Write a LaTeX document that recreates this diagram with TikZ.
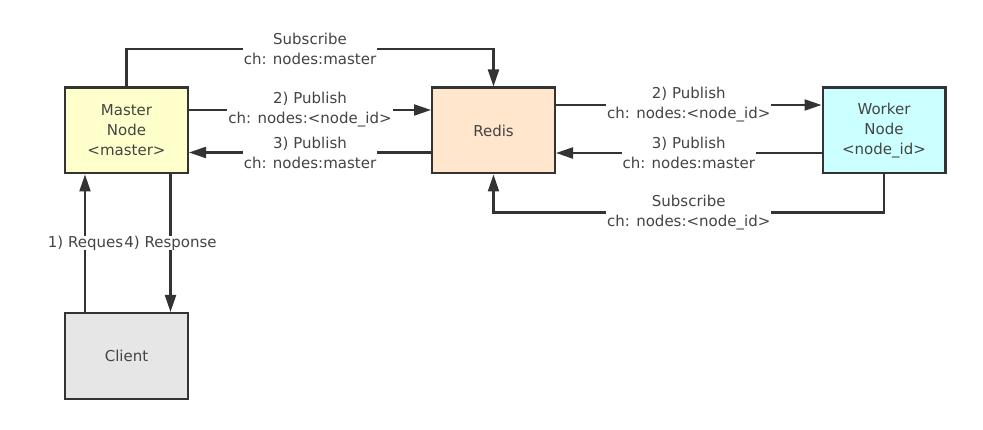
\documentclass[tikz,border=0pt]{standalone}
\usepackage{fontspec}
\setmainfont{DejaVu Sans}
\usetikzlibrary{arrows.meta}

\definecolor{linegray}{HTML}{333333}
\definecolor{textgray}{HTML}{444444}
\definecolor{masterfill}{HTML}{FFFFCC}
\definecolor{redisfill}{HTML}{FFE6CC}
\definecolor{workerfill}{HTML}{CCFFFF}
\definecolor{clientfill}{HTML}{E6E6E6}

\begin{document}
\begin{tikzpicture}[x=1pt, y=-1pt, >={Triangle[length=17pt,width=11pt]},
    box/.style={draw=linegray, line width=2.2pt, rectangle, minimum width=122.8pt, minimum height=85.8pt,
        align=center, text=textgray, font=\fontsize{15}{20}\selectfont},
    lbl/.style={fill=white, align=center, text=textgray, inner xsep=1pt, inner ysep=0pt,
        font=\fontsize{15}{20}\selectfont},
    conn/.style={draw=linegray, line width=2.2pt}]
    \useasboundingbox (0,0) rectangle (983,430);

    % Nodes
    \node (master) [box, fill=masterfill] at (126.5,130.5) {Master\\Node\\<master>};
    \node (redis) [box, fill=redisfill, right of=master, node distance=367pt] {Redis};
    \node (worker) [box, fill=workerfill, right of=redis, node distance=390.5pt] {Worker\\Node\\<node\_id>};
    \node (client) [box, fill=clientfill, below of=master, node distance=225.5pt] {Client};

    % Arrows
    \draw[conn, ->] (master.north) -- ++(0,-37.5) -| node[lbl, pos=0.25] {Subscribe\\ch: nodes:master} (redis.north);
    \draw[conn, ->] ([yshift=20.5pt]master.east) -- node[lbl] {2) Publish\\ch: nodes:<node\_id>} ([yshift=20.5pt]redis.west);
    \draw[conn, ->] ([yshift=-22pt]redis.west) -- node[lbl] {3) Publish\\ch: nodes:master} ([yshift=-22pt]master.east);
    \draw[conn, ->] ([yshift=25.5pt]redis.east) -- node[lbl] {2) Publish\\ch: nodes:<node\_id>} ([yshift=25.5pt]worker.west);
    \draw[conn, ->] ([yshift=-22.5pt]worker.west) -- node[lbl] {3) Publish\\ch: nodes:master} ([yshift=-22.5pt]redis.east);
    \draw[conn, ->] (worker.south) -- ++(0,38) -| node[lbl, pos=0.25] {Subscribe\\ch: nodes:<node\_id>} (redis.south);
    \draw[conn, ->] ([xshift=-41.5pt]client.north) -- ([xshift=-41.5pt]master.south);
    \draw[conn, ->] ([xshift=44pt]master.south) -- node[lbl, inner xsep=0pt] (resp) {4) Response} ([xshift=44pt]client.north);
    \node[lbl, anchor=east, inner xsep=0pt] at (resp.west) {1) Reques};
\end{tikzpicture}
\end{document}
